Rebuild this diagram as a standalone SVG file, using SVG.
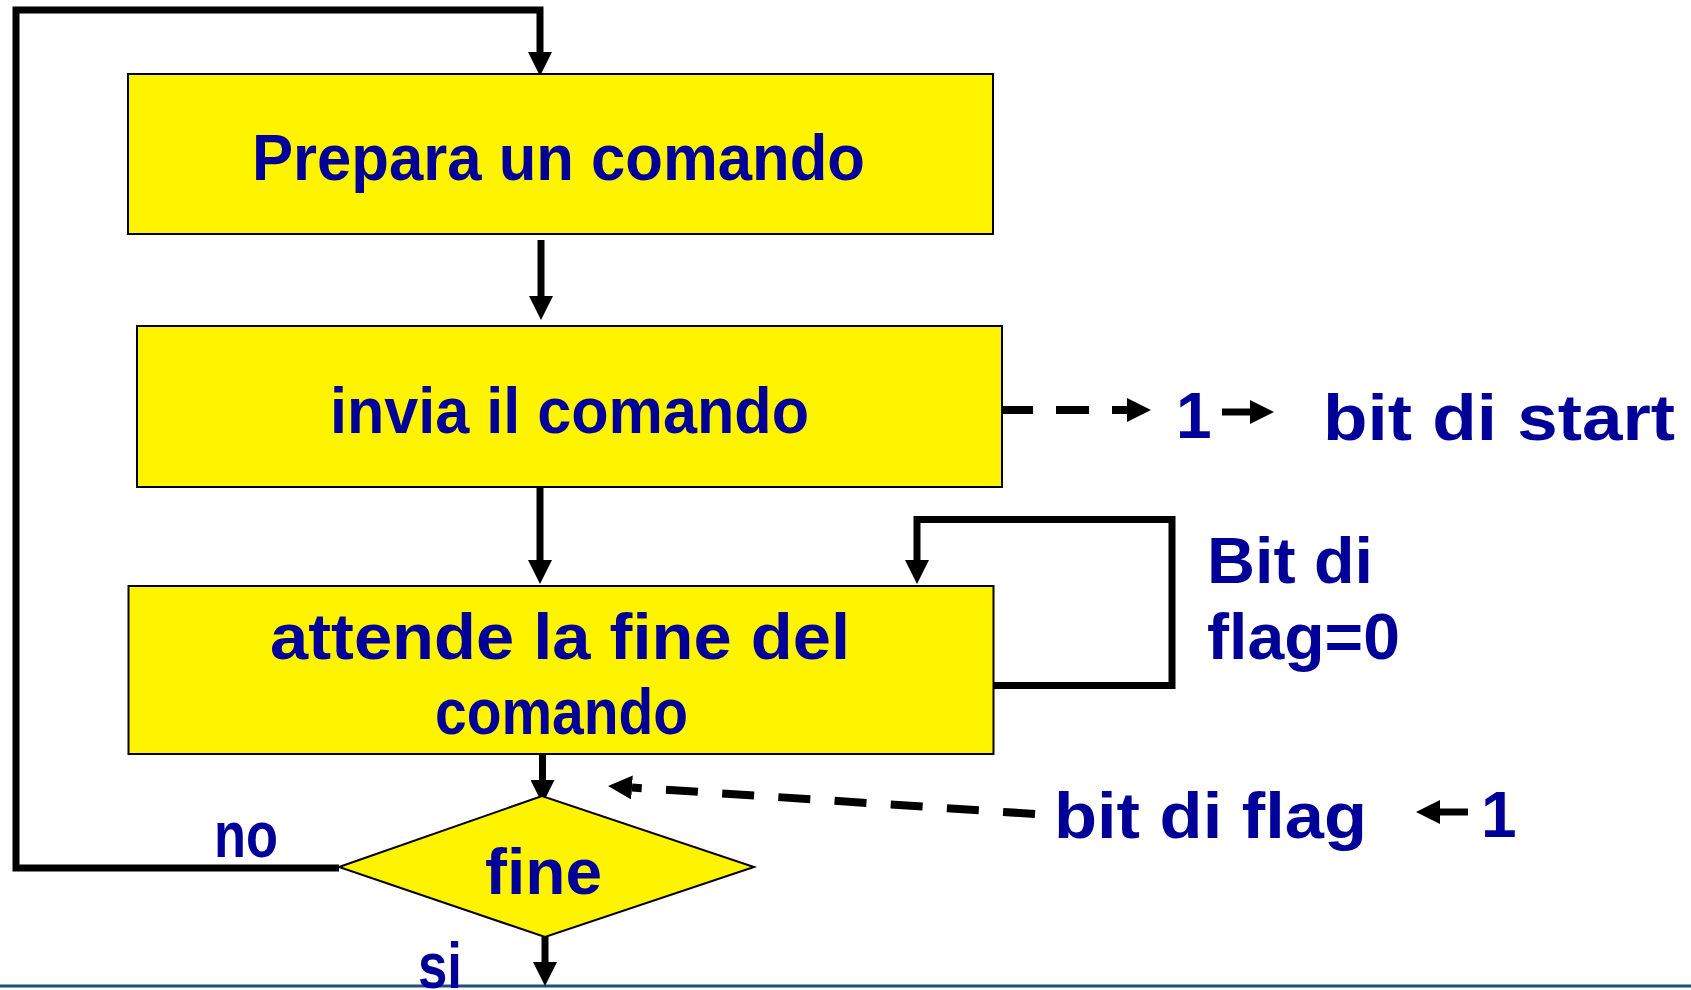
<svg xmlns="http://www.w3.org/2000/svg" width="1691" height="990" viewBox="0 0 1691 990">
<style>
.box{fill:#FFF400;stroke:#000;stroke-width:2}
.t{font-family:"Liberation Sans",Arial,sans-serif;font-weight:bold;font-size:64px;fill:#000099}
.ln{fill:none;stroke:#000;stroke-width:7}
.dash{fill:none;stroke:#000;stroke-width:8}
</style>
<defs>
<marker id="ah" viewBox="0 0 24 24" markerWidth="24" markerHeight="24" refX="0" refY="12" orient="auto" markerUnits="userSpaceOnUse">
<path d="M0,0 L24,12 L0,24 Z" fill="#000"/>
</marker>
</defs>
<rect width="1691" height="990" fill="#fff"/>
<line x1="0" y1="986" x2="1691" y2="986" stroke="#1F4E79" stroke-width="3"/>

<g id="connectors">
<path class="ln" d="M339,868 H16 V10 H540 V52" marker-end="url(#ah)"/>
<path class="ln" d="M541,240 V296" marker-end="url(#ah)"/>
<path class="ln" d="M540,487 V560" marker-end="url(#ah)"/>
<path class="ln" d="M993,685.5 H1172 V519.5 H917 V560" marker-end="url(#ah)"/>
<path class="ln" d="M542.5,754 V780" marker-end="url(#ah)"/>
<path class="ln" d="M545,937 V962" marker-end="url(#ah)"/>
<path class="dash" d="M1000,410 H1127" stroke-dasharray="33 23" marker-end="url(#ah)"/>
<path class="ln" d="M1222,412 H1250" marker-end="url(#ah)"/>
<path class="dash" d="M1035,814 L632,787.5" stroke-dasharray="32 24.3" marker-end="url(#ah)"/>
<path class="ln" d="M1468,812 H1440" marker-end="url(#ah)"/>
</g>

<g id="box1">
<rect class="box" x="128" y="74" width="865" height="160"/>
<text class="t" x="252" y="180" textLength="613" lengthAdjust="spacingAndGlyphs">Prepara un comando</text>
</g>
<g id="box2">
<rect class="box" x="137" y="326" width="865" height="161"/>
<text class="t" x="330" y="433" textLength="479" lengthAdjust="spacingAndGlyphs">invia il comando</text>
</g>
<g id="box3">
<rect class="box" x="128.5" y="586" width="865" height="168"/>
<text class="t" x="270" y="659" textLength="580" lengthAdjust="spacingAndGlyphs">attende la fine del</text>
<text class="t" x="435" y="734" textLength="253" lengthAdjust="spacingAndGlyphs">comando</text>
</g>
<g id="decision">
<polygon class="box" points="339,867 542,796 754,867 545,937"/>
<text class="t" x="485" y="894" textLength="117" lengthAdjust="spacingAndGlyphs">fine</text>
</g>

<g id="labels">
<text class="t" x="214" y="857" textLength="64" lengthAdjust="spacingAndGlyphs">no</text>
<text class="t" x="418" y="988" textLength="44" lengthAdjust="spacingAndGlyphs">si</text>
<text class="t" x="1176" y="438">1</text>
<text class="t" x="1323" y="440" textLength="352" lengthAdjust="spacingAndGlyphs">bit di start</text>
<text class="t" x="1207" y="583" textLength="166" lengthAdjust="spacingAndGlyphs">Bit di</text>
<text class="t" x="1207" y="659" textLength="193" lengthAdjust="spacingAndGlyphs">flag=0</text>
<text class="t" x="1054" y="838" textLength="313" lengthAdjust="spacingAndGlyphs">bit di flag</text>
<text class="t" x="1481" y="837">1</text>
</g>
</svg>
